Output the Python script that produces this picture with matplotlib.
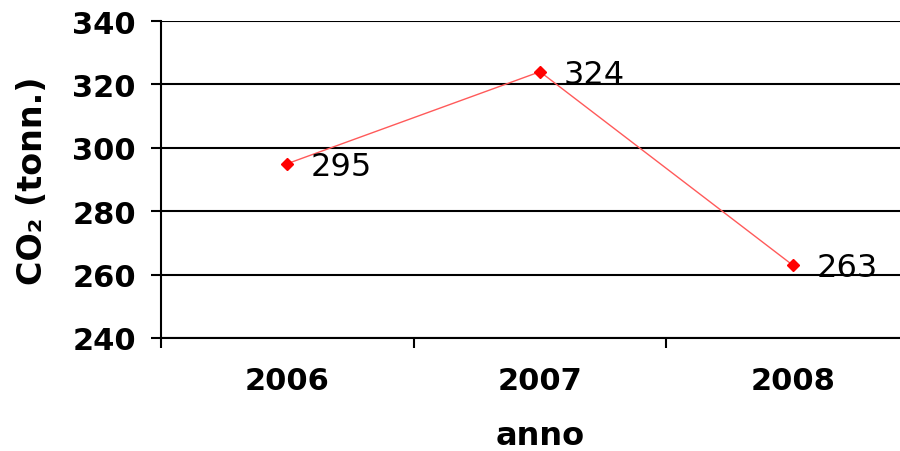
import matplotlib.pyplot as plt
import numpy as np

anni = ['2006', '2007', '2008']
co2 = [295, 324, 263]
y_ticks = [240, 260, 280, 300, 320, 340]

fig = plt.figure(figsize=(9, 4.52), dpi=100)
ax = fig.add_axes([161 / 900, (452 - 339) / 452, 758 / 900, (339 - 22) / 452])

x = np.arange(len(anni))
ax.plot(x, co2, color='#ff5a5a', lw=1.0, marker='D', ms=6,
        mfc='red', mec='red', zorder=3, clip_on=False)
for xi, v in zip(x, co2):
    ax.annotate(str(v), (xi, v), xytext=(17, -2), textcoords='offset points',
                ha='left', va='center', fontsize=23, color='black')

ax.set_xlim(-0.5, 2.5)
ax.set_ylim(240, 340)
ax.set_yticks(y_ticks)
ax.set_yticklabels([str(t) for t in y_ticks], fontsize=22, fontweight='bold')
ax.yaxis.grid(True, color='black', lw=1.5)
ax.set_axisbelow(True)

ax.set_xticks([-0.5, 0.5, 1.5, 2.5])
ax.set_xticklabels([])
ax.set_xticks(x, minor=True)
ax.set_xticklabels(anni, minor=True, fontsize=22, fontweight='bold')
ax.tick_params(axis='x', which='minor', length=0, pad=20)
ax.tick_params(axis='both', which='major', length=7, width=1.5, direction='out')
ax.tick_params(axis='y', pad=11)

for s in ['top', 'right']:
    ax.spines[s].set_visible(False)
for s in ['left', 'bottom']:
    ax.spines[s].set_linewidth(1.5)

ax.set_ylabel('CO₂ (tonn.)', fontsize=24, fontweight='bold', labelpad=17)
ax.set_xlabel('anno', fontsize=23, fontweight='bold', labelpad=18)

fig.savefig('out.png', dpi=100)
